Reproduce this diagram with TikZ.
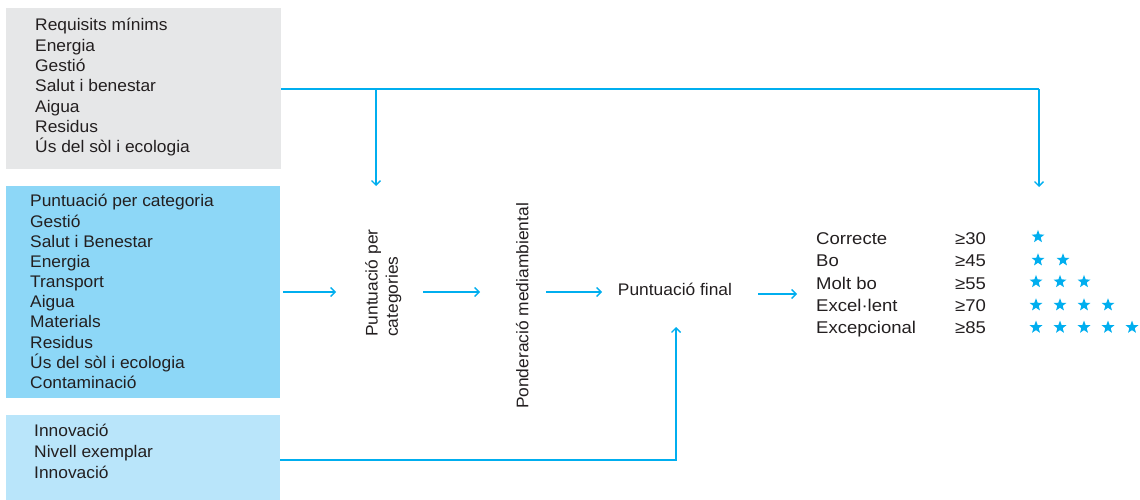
\documentclass[tikz,border=0pt]{standalone}
\usepackage{fontspec}
\setmainfont{Liberation Sans}[FakeStretch=1.035]
\newfontfamily\ratefont{Liberation Sans}[FakeStretch=1.09]
\usetikzlibrary{arrows.meta,shapes.geometric}
\definecolor{lineblue}{HTML}{00AEEF}
\definecolor{boxgray}{HTML}{E6E7E8}
\definecolor{boxblue}{HTML}{8DD7F7}
\definecolor{boxlight}{HTML}{B9E5FA}
\definecolor{txt}{HTML}{231F20}
\newcommand\mystrut{\rule{0pt}{14.5pt}}
\tikzset{
  panel/.style={draw=none, inner sep=0pt, anchor=north west},
  listtext/.style={inner sep=0pt, anchor=north west, align=left, text=txt,
    font=\fontsize{16.8}{20.3}\selectfont},
  lbl/.style={inner sep=0pt, text=txt, font=\fontsize{16.8}{20.3}\selectfont},
  conn/.style={draw=lineblue, line width=1.7pt, -{Straight Barb[length=4.5pt,width=9pt,line width=1.4pt]}},
  plain/.style={draw=lineblue, line width=1.7pt},
  thin/.style={draw=lineblue, line width=1.4pt, -{Straight Barb[length=4.5pt,width=9pt,line width=1.3pt]}},
  starmark/.style={star, star points=5, star point ratio=2.4, fill=lineblue, draw=none,
    minimum size=13.5pt, inner sep=0pt}
}
\begin{document}
\begin{tikzpicture}[x=1pt,y=-1pt]
\useasboundingbox (0,0) rectangle (1140,500);
% panels
\path[fill=boxgray] (6,8) rectangle (281,169);
\node[panel, minimum width=275pt, minimum height=161pt] (req) at (6,8) {};
\path[fill=boxblue] (6,186) rectangle (280,398);
\node[panel, minimum width=274pt, minimum height=212pt] (cat) at (6,186) {};
\path[fill=boxlight] (6,415) rectangle (280,500);
\node[panel, minimum width=274pt, minimum height=85pt] (inn) at (6,415) {};
% panel texts
\node[listtext] (reqt) at (35,16.2) {\mystrut Requisits mínims\\Energia\\Gestió\\Salut i benestar\\Aigua\\Residus\\Ús del sòl i ecologia};
\node[listtext, font=\fontsize{16.8}{20.18}\selectfont] (catt) at (30,192.2) {\mystrut Puntuació per categoria\\Gestió\\Salut i Benestar\\Energia\\Transport\\Aigua\\Materials\\Residus\\Ús del sòl i ecologia\\Contaminació};
\node[listtext, font=\fontsize{16.8}{20.8}\selectfont] (innt) at (34,422.2) {\mystrut Innovació\\Nivell exemplar\\Innovació};
% process nodes
\node[listtext, rotate=90] (pcat) at (362.8,337) {\mystrut Puntuació per\\categories};
\node[lbl, rotate=90, anchor=base] (pond) at (528.3,306) {Ponderació mediambiental};
\node[lbl, anchor=base] (final) at (675,295) {Puntuació final};
% ratings
\node[listtext, font=\ratefont\fontsize{17}{22.25}\selectfont] (names) at (816,229.8) {\mystrut Correcte\\Bo\\Molt bo\\Excel·lent\\Excepcional};
\node[listtext, font=\ratefont\fontsize{17}{22.25}\selectfont] (thr) at (955,229.8) {\mystrut ≥30\\≥45\\≥55\\≥70\\≥85};
% stars
\node[starmark] (s11) at (1038,236.7) {};
\node[starmark] (s21) at (1038,260) {};
\node[starmark] (s22) at (1063,260) {};
\node[starmark] (s31) at (1036,281.7) {};
\node[starmark] (s32) at (1060,281.7) {};
\node[starmark] (s33) at (1084,281.7) {};
\node[starmark] (s41) at (1036,305) {};
\node[starmark] (s42) at (1060,305) {};
\node[starmark] (s43) at (1084,305) {};
\node[starmark] (s44) at (1108,305) {};
\node[starmark] (s51) at (1036,327.3) {};
\node[starmark] (s52) at (1060,327.3) {};
\node[starmark] (s53) at (1084,327.3) {};
\node[starmark] (s54) at (1108,327.3) {};
\node[starmark] (s55) at (1132,327.3) {};
% coordinates
\coordinate (ja) at (376,89);
\coordinate (jb) at (1039,89);
\coordinate (ta) at (376,186);
\coordinate (tb) at (1039,187);
\coordinate (jc) at (676,460);
\coordinate (tc) at (676,327);
\coordinate (a1s) at (283,292);
\coordinate (a1e) at (336,292);
\coordinate (a2s) at (423,292);
\coordinate (a2e) at (480,292);
\coordinate (a3s) at (546,292);
\coordinate (a3e) at (602,292);
\coordinate (a4s) at (758,294);
\coordinate (a4e) at (797,294);
% connectors
\draw[plain] (req.east |- ja) -- (jb);
\draw[thin] (jb) -- (tb);
\draw[thin] (ja) -- (ta);
\draw[conn] (a1s) -- (a1e);
\draw[conn] (a2s) -- (a2e);
\draw[conn] (a3s) -- (a3e);
\draw[conn] (a4s) -- (a4e);
\draw[conn] (inn.east |- jc) -- (jc) -- (tc);
\end{tikzpicture}
\end{document}
